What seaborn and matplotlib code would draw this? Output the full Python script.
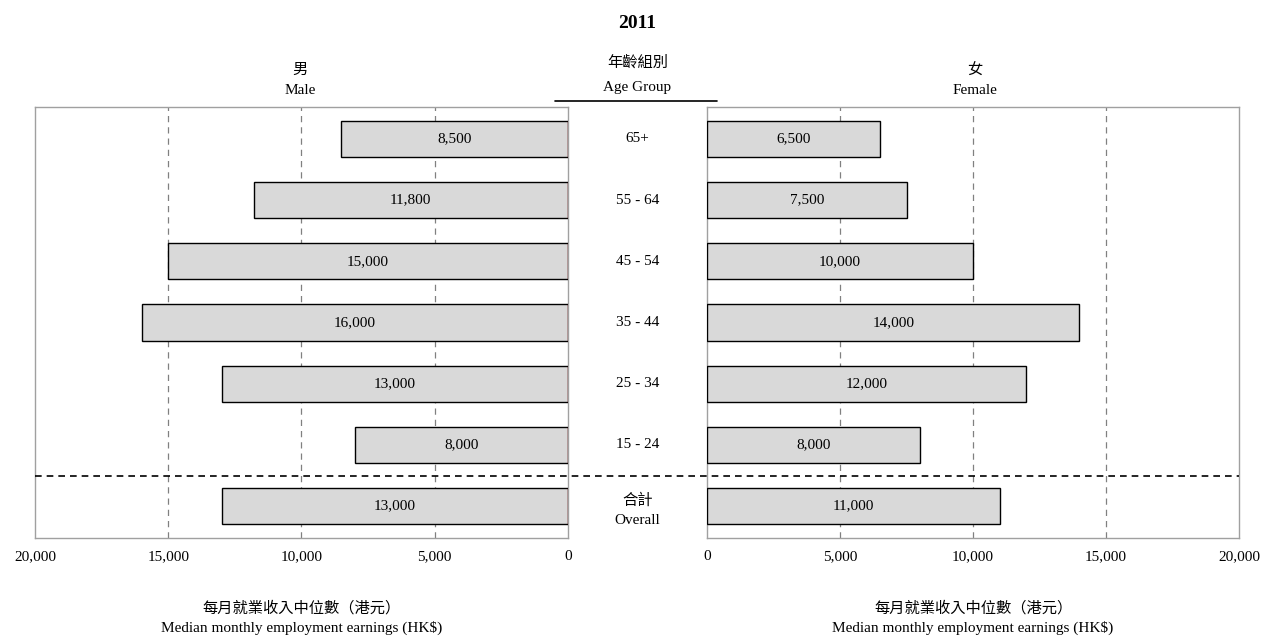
import matplotlib
matplotlib.use("Agg")
import matplotlib.pyplot as plt
from matplotlib.lines import Line2D
from matplotlib.ticker import FuncFormatter
import seaborn as sns
import pandas as pd

age_groups = ["65+", "55 - 64", "45 - 54", "35 - 44", "25 - 34", "15 - 24", "合計\nOverall"]
male = [8500, 11800, 15000, 16000, 13000, 8000, 13000]
female = [6500, 7500, 10000, 14000, 12000, 8000, 11000]
ticks = [0, 5000, 10000, 15000, 20000]

sns.set_theme(style="white")
plt.rcParams["font.family"] = ["Liberation Serif", "Noto Sans CJK TC", "DejaVu Sans"]
plt.rcParams["text.color"] = "black"
plt.rcParams["axes.labelcolor"] = "black"
plt.rcParams["xtick.color"] = "black"

df = pd.DataFrame({"age": age_groups, "male": male, "female": female})

fig = plt.figure(figsize=(12.66, 6.4), dpi=100)
ax_m = fig.add_axes([0.02765, 0.1594, 0.4210, 0.6734])
ax_f = fig.add_axes([0.5585, 0.1594, 0.4202, 0.6734])

fmt = FuncFormatter(lambda v, p: f"{int(v):,}")

for ax, col in ((ax_m, "male"), (ax_f, "female")):
    sns.barplot(data=df, x=col, y="age", orient="h", ax=ax, color="#d9d9d9",
                edgecolor="black", linewidth=1.0, width=0.59, saturation=1, zorder=3)
    ax.set_xlim(0, 20000)
    ax.set_ylim(6.52, -0.52)
    ax.set_xticks(ticks)
    ax.xaxis.set_major_formatter(fmt)
    ax.tick_params(axis="x", length=0, pad=9, labelsize=11, labelcolor="black")
    ax.set_yticks([])
    ax.set_ylabel("")
    ax.set_xlabel("每月就業收入中位數（港元）\nMedian monthly employment earnings (HK$)",
                  fontsize=11, labelpad=27, linespacing=1.5, color="black")
    for v in ticks[1:-1]:
        ax.axvline(v, color="#808080", linestyle=(0, (5, 4)), linewidth=0.9, zorder=1)
    for s in ax.spines.values():
        s.set_color("#a0a0a0")
        s.set_linewidth(1.0)
    for p, val in zip(ax.patches, df[col]):
        ax.text(val / 2, p.get_y() + p.get_height() / 2, f"{val:,}",
                ha="center", va="center", fontsize=11, color="black", zorder=4)

ax_m.invert_xaxis()
# thin red edge where the male bars meet the zero line
for p in ax_m.patches:
    ax_m.plot([0, 0], [p.get_y(), p.get_y() + p.get_height()], color="#c00000",
              linewidth=0.9, zorder=5, solid_capstyle="butt")

# age group labels in the centre gap
inv = fig.transFigure.inverted()
xc = 0.5035
for i, lab in enumerate(age_groups):
    two_line = "\n" in lab
    _, yf = inv.transform(ax_m.transData.transform((0, i + (0.07 if two_line else 0))))
    fig.text(xc, yf, lab, ha="center", va="center", fontsize=11, linespacing=1.6,
             color="black")

# dashed separator above the overall row
_, ysep = inv.transform(ax_m.transData.transform((0, 5.5)))
fig.add_artist(Line2D([0.02765, 0.9787], [ysep, ysep], color="black",
                      linestyle=(0, (4, 3)), linewidth=1.2))

# headers
fig.text(xc, 0.963, "2011", ha="center", va="center", fontsize=14, fontweight="bold")
fig.text(xc, 0.903, "年齡組別", ha="center", va="center", fontsize=11)
fig.text(xc, 0.864, "Age Group", ha="center", va="center", fontsize=11)
fig.add_artist(Line2D([0.4384, 0.5664], [0.842, 0.842], color="black", linewidth=1.2))
fig.text(0.237, 0.890, "男", ha="center", va="center", fontsize=11)
fig.text(0.237, 0.859, "Male", ha="center", va="center", fontsize=11)
fig.text(0.770, 0.890, "女", ha="center", va="center", fontsize=11)
fig.text(0.770, 0.859, "Female", ha="center", va="center", fontsize=11)

fig.savefig("out.png", dpi=100)
